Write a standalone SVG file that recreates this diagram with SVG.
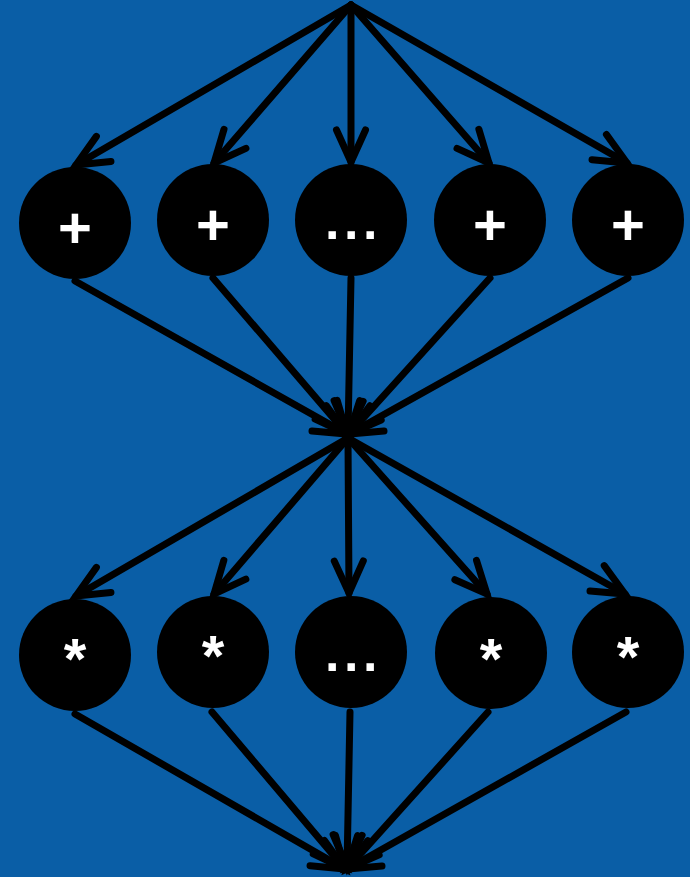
<svg xmlns="http://www.w3.org/2000/svg" width="690" height="877" viewBox="0 0 690 877">
<style>
.edge{stroke:#000;stroke-width:7;fill:none;stroke-linecap:round;marker-end:url(#arr)}
.node{fill:#000}
.lbl{fill:#fff;font-family:"Liberation Sans",Arial,sans-serif;font-weight:bold;font-size:58px;text-anchor:middle}
.dots{font-size:52px;letter-spacing:4.5px}
</style>
<defs>
<marker id="arr" markerUnits="userSpaceOnUse" orient="auto" refX="0" refY="0" markerWidth="80" markerHeight="80" viewBox="-40 -40 80 80" overflow="visible">
<path d="M-32,-14.5 L0,0 L-32,14.5" fill="none" stroke="#000" stroke-width="7" stroke-linecap="round" stroke-linejoin="miter"/>
</marker>
</defs>
<rect width="690" height="877" fill="#0A5EA6"/>
<g id="connectors">
<line class="edge" x1="351" y1="5" x2="76" y2="165"/>
<line class="edge" x1="351" y1="5" x2="214" y2="163"/>
<line class="edge" x1="351" y1="5" x2="351" y2="162"/>
<line class="edge" x1="351" y1="5" x2="489" y2="163"/>
<line class="edge" x1="351" y1="5" x2="627" y2="163"/>
<line class="edge" x1="75" y1="281" x2="347" y2="434"/>
<line class="edge" x1="213" y1="278" x2="347" y2="434"/>
<line class="edge" x1="351" y1="278" x2="348" y2="433"/>
<line class="edge" x1="490" y1="278" x2="349" y2="434"/>
<line class="edge" x1="628" y1="278" x2="349" y2="434"/>
<line class="edge" x1="348" y1="438" x2="76" y2="596"/>
<line class="edge" x1="348" y1="438" x2="214" y2="594"/>
<line class="edge" x1="348" y1="438" x2="349" y2="593"/>
<line class="edge" x1="348" y1="438" x2="487" y2="594"/>
<line class="edge" x1="348" y1="438" x2="625" y2="594"/>
<line class="edge" x1="75" y1="714" x2="345" y2="869"/>
<line class="edge" x1="212" y1="712" x2="345" y2="869"/>
<line class="edge" x1="350" y1="712" x2="347" y2="867"/>
<line class="edge" x1="488" y1="712" x2="347" y2="869"/>
<line class="edge" x1="626" y1="712" x2="347" y2="869"/>
</g>
<g id="n1"><circle class="node" cx="75" cy="223" r="56"/><text class="lbl" x="75" y="247.5">+</text></g>
<g id="n2"><circle class="node" cx="213" cy="220" r="56"/><text class="lbl" x="213" y="245">+</text></g>
<g id="n3"><circle class="node" cx="351" cy="220" r="56"/><text class="lbl dots" x="353.5" y="239">...</text></g>
<g id="n4"><circle class="node" cx="490" cy="220" r="56"/><text class="lbl" x="490" y="245">+</text></g>
<g id="n5"><circle class="node" cx="628" cy="220" r="56"/><text class="lbl" x="628" y="245">+</text></g>
<g id="m1"><circle class="node" cx="75" cy="655" r="56"/><text class="lbl" x="75" y="679">*</text></g>
<g id="m2"><circle class="node" cx="213" cy="652" r="56"/><text class="lbl" x="213" y="676">*</text></g>
<g id="m3"><circle class="node" cx="351" cy="652" r="56"/><text class="lbl dots" x="353.5" y="671">...</text></g>
<g id="m4"><circle class="node" cx="491" cy="653" r="56"/><text class="lbl" x="491" y="678.5">*</text></g>
<g id="m5"><circle class="node" cx="628" cy="652" r="56"/><text class="lbl" x="628" y="676.5">*</text></g>
</svg>
